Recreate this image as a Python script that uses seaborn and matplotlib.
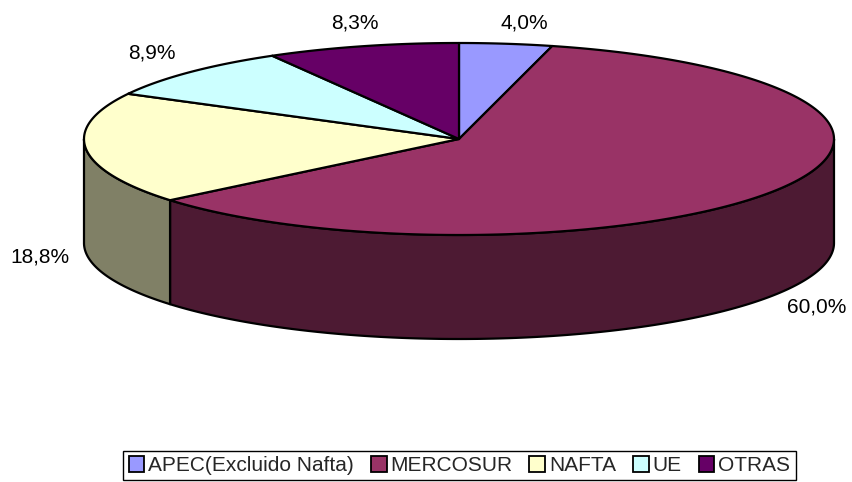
import numpy as np
import seaborn as sns
import matplotlib
matplotlib.use("Agg")
import matplotlib.pyplot as plt
from matplotlib.patches import Polygon, Patch

# data
regions = ["APEC(Excluido Nafta)", "MERCOSUR", "NAFTA", "UE", "OTRAS"]
shares = [4.0, 60.0, 18.8, 8.9, 8.3]

# label anchor points (pixels, image coords)
label_pos = [(524, 23), (817, 307), (40, 257), (152, 53), (355, 23)]

sns.set_style("white")
plt.rcParams['font.family'] = ['Liberation Sans', 'DejaVu Sans']

top_cols = sns.color_palette(["#9999FF", "#993366", "#FFFFCC", "#CCFFFF", "#660066"])
side_cols = [tuple(c * 0.5 for c in col) for col in top_cols]

# ellipse geometry in pixels
cx, cy, rx, ry, depth = 459, 139, 375, 96, 104


def arc(t0, t1, dy=0, n=200):
    t = np.radians(np.linspace(t0, t1, n))
    return np.column_stack([cx + rx * np.sin(t), cy - ry * np.cos(t) + dy])


fig = plt.figure(figsize=(8.53, 4.82), dpi=100)
ax = fig.add_axes([0, 0, 1, 1])
ax.set_xlim(0, 853)
ax.set_ylim(482, 0)
ax.axis('off')

bounds = np.concatenate([[0], np.cumsum(shares)]) / sum(shares) * 360

# side walls (front half only, 90..270 deg clockwise from top)
for i in range(len(shares)):
    a0, a1 = max(bounds[i], 90), min(bounds[i + 1], 270)
    if a1 <= a0:
        continue
    pts = np.vstack([arc(a0, a1), arc(a0, a1, depth)[::-1]])
    ax.add_patch(Polygon(pts, closed=True, facecolor=side_cols[i],
                         edgecolor='black', linewidth=1.6, joinstyle='round'))

# top faces
for i in range(len(shares)):
    pts = np.vstack([[cx, cy], arc(bounds[i], bounds[i + 1])])
    ax.add_patch(Polygon(pts, closed=True, facecolor=top_cols[i],
                         edgecolor='black', linewidth=1.6, joinstyle='round'))

# percentage labels
for v, (lx, ly) in zip(shares, label_pos):
    ax.text(lx, ly, f"{v:.1f}%".replace('.', ','), ha='center', va='center',
            fontsize=15, color='black')

handles = [Patch(facecolor=top_cols[i], edgecolor='black', linewidth=1.3, label=regions[i])
           for i in range(len(regions))]
leg = fig.legend(handles=handles, loc='upper center', ncol=5,
                 bbox_to_anchor=(459.5 / 853, 1 - 451 / 482), fontsize=15,
                 frameon=True, fancybox=False, edgecolor='black', framealpha=1,
                 handlelength=0.75, handleheight=0.75, handletextpad=0.2,
                 columnspacing=0.8, borderpad=0.25, borderaxespad=0)
leg.get_frame().set_linewidth(1.0)

fig.savefig("out.png", dpi=100)
